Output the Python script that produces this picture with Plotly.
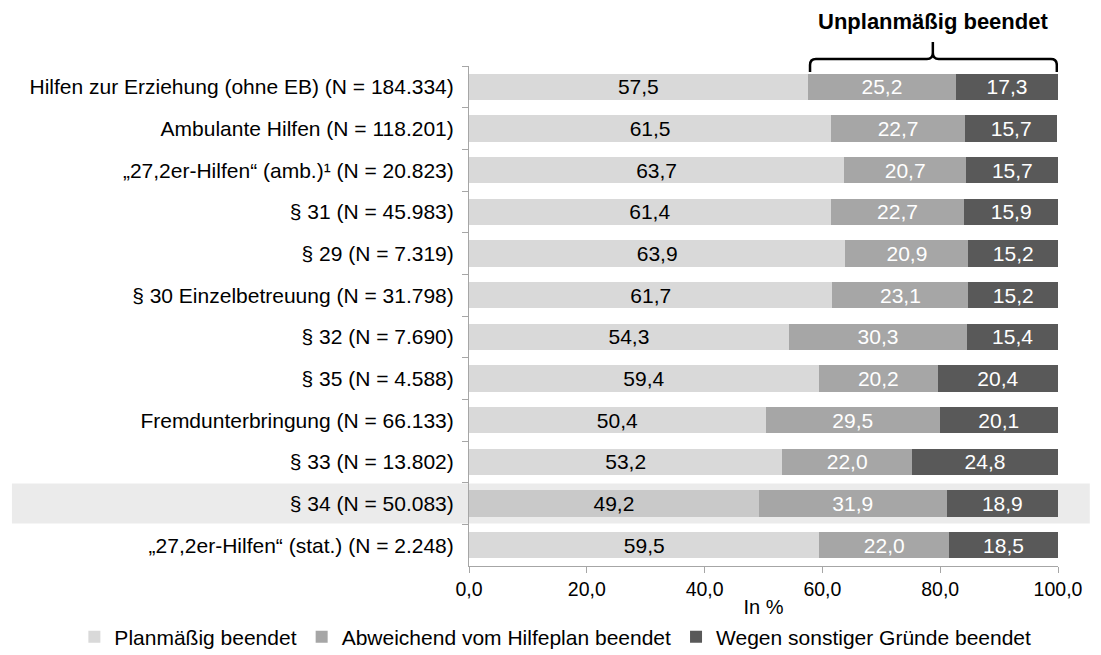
import plotly.graph_objects as go

# Data
categories = [
    "Hilfen zur Erziehung (ohne EB) (N = 184.334)",
    "Ambulante Hilfen (N = 118.201)",
    "„27,2er-Hilfen“ (amb.)¹ (N = 20.823)",
    "§ 31 (N = 45.983)",
    "§ 29 (N = 7.319)",
    "§ 30 Einzelbetreuung (N = 31.798)",
    "§ 32 (N = 7.690)",
    "§ 35 (N = 4.588)",
    "Fremdunterbringung (N = 66.133)",
    "§ 33 (N = 13.802)",
    "§ 34 (N = 50.083)",
    "„27,2er-Hilfen“ (stat.) (N = 2.248)",
]
planmaessig = [57.5, 61.5, 63.7, 61.4, 63.9, 61.7, 54.3, 59.4, 50.4, 53.2, 49.2, 59.5]
abweichend = [25.2, 22.7, 20.7, 22.7, 20.9, 23.1, 30.3, 20.2, 29.5, 22.0, 31.9, 22.0]
sonstige = [17.3, 15.7, 15.7, 15.9, 15.2, 15.2, 15.4, 20.4, 20.1, 24.8, 18.9, 18.5]

series_names = [
    "Planmäßig beendet",
    "Abweichend vom Hilfeplan beendet",
    "Wegen sonstiger Gründe beendet",
]
highlight = "§ 34 (N = 50.083)"

FONT = "Liberation Sans, Arial, sans-serif"

fig = go.Figure()

# highlighted row gets a slightly darker first segment
plan_colors = ["#c9c9c9" if c == highlight else "#d9d9d9" for c in categories]

for name, vals, color, txtcolor in [
    (series_names[0], planmaessig, plan_colors, "#000000"),
    (series_names[1], abweichend, "#a6a6a6", "#ffffff"),
    (series_names[2], sonstige, "#595959", "#ffffff"),
]:
    fig.add_trace(go.Bar(
        y=categories,
        x=vals,
        name=name,
        orientation="h",
        marker=dict(color=color, line=dict(width=0)),
        texttemplate="%{x:.1f}",
        textposition="inside",
        insidetextanchor="middle",
        textangle=0,
        constraintext="none",
        textfont=dict(color=txtcolor, size=21, family=FONT),
        hoverinfo="skip",
    ))

# grey band behind the § 34 row
idx = categories.index(highlight)
fig.add_shape(
    type="rect", xref="paper", yref="y",
    x0=-0.776, x1=1.054, y0=idx - 0.48, y1=idx + 0.48,
    fillcolor="#ebebeb", line=dict(width=0), layer="below",
)

# curly bracket over the unplanned share of the first row
x0, x1 = planmaessig[0] + 0.4, 99.8
xm = (planmaessig[0] + 100) / 2
ybot, yh, ytop = 0.988, 1.014, 1.048
rx, ry = 1.0, 0.012
path = (
    f"M {x0},{ybot} L {x0},{yh - ry} Q {x0},{yh} {x0 + rx},{yh} "
    f"L {xm - rx},{yh} Q {xm},{yh} {xm},{yh + ry} L {xm},{ytop} "
    f"L {xm},{yh + ry} Q {xm},{yh} {xm + rx},{yh} "
    f"L {x1 - rx},{yh} Q {x1},{yh} {x1},{yh - ry} L {x1},{ybot}"
)
fig.add_shape(type="path", xref="x", yref="paper", path=path,
              line=dict(color="#000000", width=2.5))
fig.add_annotation(
    x=xm, xref="x", y=1.088, yref="paper", yanchor="middle",
    text="<b>Unplanmäßig beendet</b>", showarrow=False,
    font=dict(size=22, color="#000000", family=FONT),
)

# the page body has an 8px margin, so the figure is a bit smaller
fig.update_layout(
    barmode="stack",
    bargap=0.375,
    width=1093,
    height=647,
    margin=dict(l=461, r=43, t=58, b=89, autoexpand=False),
    paper_bgcolor="#ffffff",
    plot_bgcolor="#ffffff",
    separators=",.",
    font=dict(family=FONT, size=20, color="#000000"),
    showlegend=True,
    legend=dict(
        orientation="h",
        x=-0.67, xanchor="left",
        y=-0.142, yanchor="middle",
        font=dict(size=21, family=FONT),
        itemwidth=30,
        traceorder="normal",
        bgcolor="rgba(0,0,0,0)",
    ),
)
fig.update_xaxes(
    range=[0, 100],
    dtick=20,
    tickformat=".1f",
    showgrid=False,
    zeroline=False,
    showline=True,
    linecolor="#a6a6a6",
    ticks="outside",
    ticklen=6,
    tickcolor="#a6a6a6",
    tickfont=dict(size=19.5),
    title=dict(text="In %", font=dict(size=20), standoff=0),
)
fig.update_yaxes(
    autorange="reversed",
    showgrid=False,
    showline=True,
    linecolor="#a6a6a6",
    ticks="outside",
    tickson="boundaries",
    ticklen=6,
    tickcolor="#a6a6a6",
    tickfont=dict(size=21),
    ticklabelstandoff=10,
)

fig.write_html("out.html")
